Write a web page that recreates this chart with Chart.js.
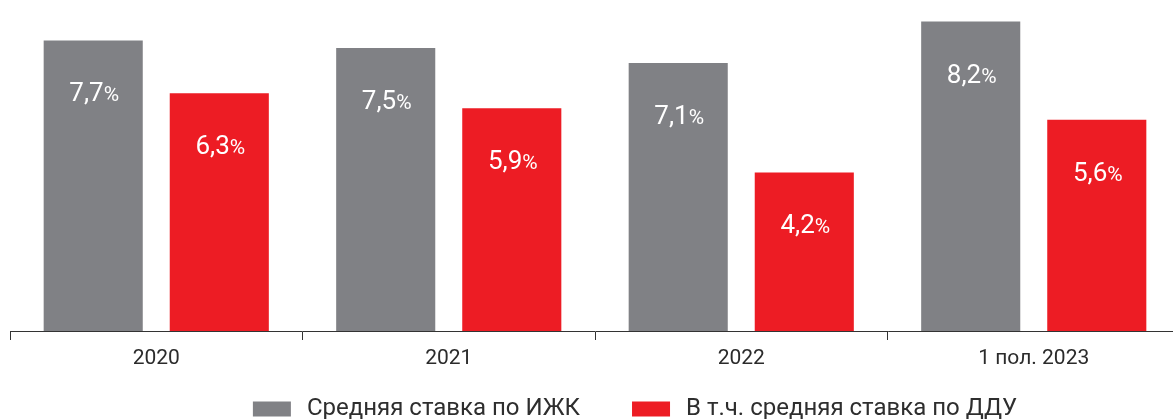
<!DOCTYPE html>
<html>
<head>
<meta charset="utf-8">
<script src="https://cdn.jsdelivr.net/npm/chart.js@4/dist/chart.umd.min.js"></script>
<style>
  html, body { margin: 0; padding: 0; background: #fff; overflow: hidden; }
  canvas { display: block; }
</style>
</head>
<body>
<canvas id="rateChart" width="1180" height="419"></canvas>
<script>
var categories = ['2020', '2021', '2022', '1 пол. 2023'];
var seriesNames = ['Средняя ставка по ИЖК', 'В т.ч. средняя ставка по ДДУ'];
var avgRate = [7.7, 7.5, 7.1, 8.2];
var dduRate = [6.3, 5.9, 4.2, 5.6];

var GREY = '#808185';
var RED = '#ed1c24';
var FONT = 'Roboto, "Noto Sans", sans-serif';

// white value labels inside the bars, "%" a little smaller
var valueLabels = {
    id: 'valueLabels',
    afterDatasetsDraw: function (chart) {
        var ctx = chart.ctx;
        ctx.save();
        ctx.fillStyle = '#ffffff';
        ctx.textBaseline = 'alphabetic';
        ctx.textAlign = 'left';
        chart.data.datasets.forEach(function (ds, i) {
            chart.getDatasetMeta(i).data.forEach(function (bar, j) {
                var num = ds.data[j].toFixed(1).replace('.', ',');
                ctx.font = '26px ' + FONT;
                var w1 = ctx.measureText(num).width;
                ctx.font = '21px ' + FONT;
                var w2 = ctx.measureText('%').width;
                var x = bar.x - (w1 + w2) / 2 + 1;
                var y = bar.y + 61;
                ctx.font = '26px ' + FONT;
                ctx.fillText(num, x, y);
                ctx.font = '21px ' + FONT;
                ctx.fillText('%', x + w1, y);
            });
        });
        ctx.restore();
    }
};

// legend under the axis
var bottomLegend = {
    id: 'bottomLegend',
    afterDraw: function (chart) {
        var ctx = chart.ctx;
        var boxW = 38, boxH = 15, gap = 16, itemGap = 52;
        ctx.save();
        ctx.font = '24px ' + FONT;
        var widths = chart.data.datasets.map(function (ds) {
            return boxW + gap + ctx.measureText(ds.label).width;
        });
        var total = widths.reduce(function (a, b) { return a + b; }, 0) + itemGap * (widths.length - 1);
        var x = 635 - total / 2;
        var cy = 409;
        chart.data.datasets.forEach(function (ds, i) {
            ctx.fillStyle = ds.backgroundColor;
            ctx.fillRect(x, cy - boxH / 2, boxW, boxH);
            ctx.fillStyle = '#2e2e2e';
            ctx.textBaseline = 'middle';
            ctx.fillText(ds.label, x + boxW + gap, cy);
            x += widths[i] + itemGap;
        });
        ctx.restore();
    }
};

var ctx = document.getElementById('rateChart').getContext('2d');
var rateChart = new Chart(ctx, {
    type: 'bar',
    data: {
        labels: categories,
        datasets: [{
            label: seriesNames[0],
            data: avgRate,
            backgroundColor: GREY
        }, {
            label: seriesNames[1],
            data: dduRate,
            backgroundColor: RED
        }]
    },
    options: {
        responsive: false,
        animation: false,
        events: [],
        categoryPercentage: 0.862,
        barPercentage: 0.786,
        layout: {
            padding: { left: 10, right: 0, top: 0, bottom: 0 }
        },
        plugins: {
            legend: { display: false },
            tooltip: { enabled: false }
        },
        scales: {
            x: {
                afterFit: function (scale) { scale.height = 88; },
                grid: {
                    display: true,
                    offset: true,
                    drawOnChartArea: false,
                    drawTicks: true,
                    tickLength: 9,
                    color: '#333333',
                    lineWidth: 1
                },
                border: { display: true, color: '#333333', width: 1 },
                ticks: {
                    color: '#2b2b2b',
                    padding: 6,
                    font: { family: FONT, size: 21 }
                }
            },
            y: {
                display: false,
                min: 0,
                max: 8.77
            }
        }
    },
    plugins: [valueLabels, bottomLegend]
});
</script>
</body>
</html>
